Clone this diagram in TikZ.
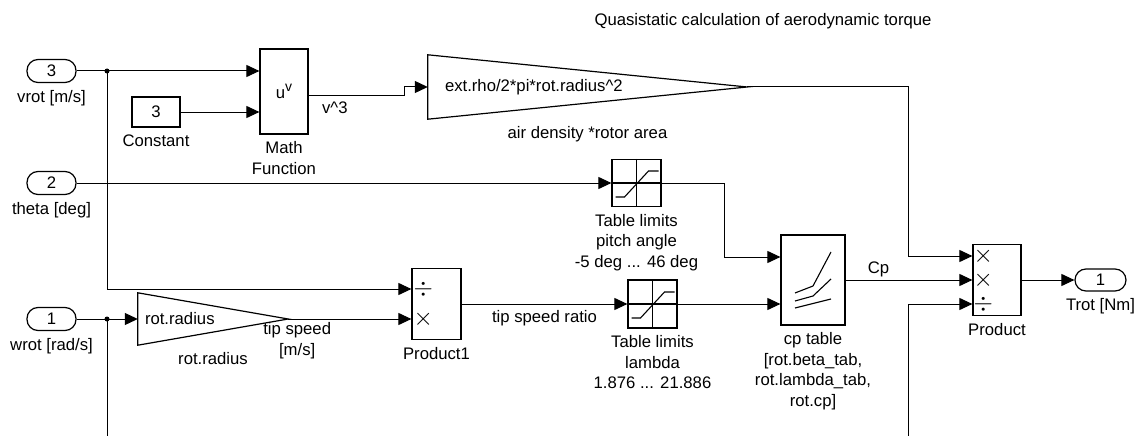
\documentclass[tikz,border=0pt]{standalone}
\usepackage{fontspec}
\setmainfont{Liberation Sans}
\usetikzlibrary{arrows.meta,calc}
\newcommand{\limicon}[1]{%
  \draw[icon] (#1.north) -- (#1.south) (#1.west) -- (#1.east);
  \draw[icon,shift={(#1.center)}] (-21,14) -- (-12,14) -- (12,-12) -- (22,-12);}
\newcommand{\gaintri}[1]{\draw[blkline] (#1.north west) -- (#1.east) -- (#1.south west) -- cycle;}

\begin{document}
\begin{tikzpicture}[
  x=1pt, y=-1pt,
  >={Triangle[length=13pt,width=12pt]},
  font=\fontsize{16.7}{20.5}\selectfont,
  blkline/.style={line width=1.2pt},
  icon/.style={line width=1.1pt},
  blk/.style={draw, blkline, minimum width=49pt, inner sep=0pt},
  port/.style={draw, blkline, rounded corners=11pt, minimum width=49pt,
               minimum height=23pt, inner sep=0pt},
  gain/.style={inner ysep=0pt, align=left},
  capt/.style={inner sep=0pt, align=center, label distance=7pt},
  sig/.style={inner sep=0pt, align=center},
  sign/.style={inner sep=0pt, font=\fontsize{24}{24}\selectfont},
  wire/.style={->, line width=1pt},
  bare/.style={line width=1pt}
]
\useasboundingbox (0,0) rectangle (1144,436);

\node (title) at (763,21) {Quasistatic calculation of aerodynamic torque};

% inports
\node[port, label={[capt]below:vrot [m/s]}] (in3) at (51.5,71) {3};
\node[port, label={[capt]below:theta [deg]}] (in2) at (51.5,183) {2};
\node[port, label={[capt]below:wrot [rad/s]}] (in1) at (51.5,319) {1};

% v^3 branch
\node[blk, minimum width=48pt, minimum height=30pt, label={[capt]below:Constant}] (const) at (156,112) {3};
\node[blk, minimum width=48pt, minimum height=85pt, label={[capt]below:{Math\\Function}}] (mathfn) at (284,91.5) {u\raisebox{7pt}{\fontsize{14}{14}\selectfont v}};
\node[gain, inner xsep=17pt, text width=285pt, minimum height=64pt,
      label={[capt]below:air density *rotor area}] (gainA) at (587.5,87) {ext.rho/2*pi*rot.radius\^{}2};
\gaintri{gainA}

% tip speed ratio
\node[gain, inner xsep=7pt, text width=136pt, minimum height=52pt,
      label={[capt]below:rot.radius}] (gainR) at (213,319) {rot.radius};
\gaintri{gainR}
\node[blk, minimum height=71pt, label={[capt]below:Product1}] (prod1) at (436.5,304) {};
\node[sign] (p1s1) at ($(prod1.west)+(12,-15)$) {$\div$};
\node[sign] (p1s2) at ($(prod1.west)+(12,15)$) {$\times$};

% table limits
\node[blk, minimum height=47pt, label={[capt]below:{Table limits\\pitch angle\\-5 deg ... 46 deg}}] (satP) at (636.5,183) {};
\limicon{satP}
\node[blk, minimum height=48pt, label={[capt]below:{Table limits\\lambda\\1.876 ... 21.886}}] (satL) at (652.5,304) {};
\limicon{satL}

% cp lookup
\node[blk, minimum width=64pt, minimum height=90pt,
      label={[capt]below:{cp table\\{}[rot.beta\_tab,\\rot.lambda\_tab,\\rot.cp]}}] (cp) at (813,280) {};
\draw[icon,shift={(cp.center)}] (-18,13) -- (0,6) -- (18,-28)
  (-18,21) -- (0,16) -- (18,-1) (-18,28) -- (18,19);

% torque
\node[blk, minimum width=48pt, minimum height=71pt, label={[capt]below:Product}] (prod) at (997,280) {};
\node[sign] (ps1) at ($(prod.west)+(11,-24)$) {$\times$};
\node[sign] (ps2) at ($(prod.west)+(11,0)$) {$\times$};
\node[sign] (ps3) at ($(prod.west)+(11,24)$) {$\div$};
\node[port, minimum width=51pt, minimum height=22pt, label={[capt]below:Trot [Nm]}] (out1) at (1100.5,280) {1};

% port and bend points
\coordinate (mf-in1) at ($(mathfn.west)+(0,-20.5)$);
\coordinate (mf-out) at ($(mathfn.east)+(0,4.5)$);
\coordinate (p1-in1) at ($(prod1.west)+(0,-15)$);
\coordinate (p1-in2) at ($(prod1.west)+(0,15)$);
\coordinate (cp-in1) at ($(cp.west)+(0,-23)$);
\coordinate (cp-in2) at ($(cp.west)+(0,24)$);
\coordinate (pr-in1) at ($(prod.west)+(0,-24)$);
\coordinate (pr-in3) at ($(prod.west)+(0,24)$);
\coordinate (j1) at (107,71);
\coordinate (j2) at (107,319);
\coordinate (wbot) at (107,436);
\coordinate (b1) at (908,87);
\coordinate (b2) at (724,183);
\coordinate (pbot) at (908,436);

% wires
\draw[wire] (in3.east) -- (mf-in1);
\draw[wire] (j1) |- (p1-in1);
\fill (j1) circle (2.5);
\draw[wire] (const.east) -- (const.east -| mathfn.west);
\draw[wire] (mf-out) -- node[sig, at start, anchor=north west, shift={(13,5)}] {v\^{}3} ++(96,0) |- (gainA.west);
\draw[wire] (gainA.east) -- (b1) |- (pr-in1);
\draw[wire] (in2.east) -- (satP.west);
\draw[wire] (satP.east) -- (b2) |- (cp-in1);
\draw[wire] (in1.east) -- (gainR.west);
\draw[bare] (j2) -- (wbot);
\fill (j2) circle (2.5);
\draw[wire] (gainR.east) -- node[sig, pos=0.073, below=3pt] {tip speed\\{}[m/s]} (p1-in2);
\draw[wire] (prod1.east) -- node[sig, midway, below=6pt] {tip speed ratio} (satL.west);
\draw[wire] (satL.east) -- (cp-in2);
\draw[wire] (cp.east) -- node[sig, pos=0.26, above=3pt] {Cp} (prod.west);
\draw[wire] (pbot) |- (pr-in3);
\draw[wire] (prod.east) -- (out1.west);
\end{tikzpicture}
\end{document}
